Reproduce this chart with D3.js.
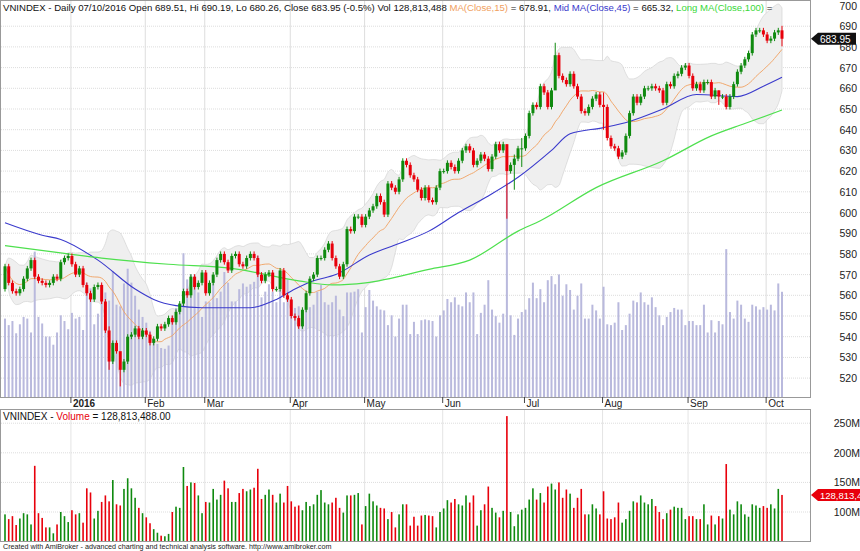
<!DOCTYPE html>
<html><head><meta charset="utf-8">
<script src="https://cdn.jsdelivr.net/npm/d3@7"></script>
<style>body{margin:0;background:#fff}svg{display:block;font-family:"Liberation Sans",Arial,sans-serif}</style>
</head><body><svg id="c" width="860" height="551"></svg>
<script>
// ---- data ----
const closes = [574,566,562,561,563,568,573,577,569,567,566,565,566,569,568,576,578,579,
575,570,573,565,561,558,564,565,557,543,528,537,533,524,528,540,541,544,
540,543,541,537,539,545,544,546,549,547,552,556,562,560,569,564,566,571,
561,566,570,577,580,576,572,579,580,575,574,578,580,578,570,567,570,571,563,563,572,560,558,550,549,545,553,
561,568,570,578,578,582,585,
578,574,569,575,592,591,598,598,594,598,601,603,608,605,599,614,612,610,616,625,623,618,616,611,607,612,606,605,612,620,620,624,622,620,625,630,632,630,623,625,628,626,621,627,633,630,633,620,
623,626,631,631,637,648,652,651,661,658,651,659,676,666,664,662,667,661,656,649,648,651,655,657,652,651,636,632,631,627,629,637,648,656,653,656,660,660,661,660,659,653,662,661,666,667,670,671,666,660,662,659,663,663,656,659,656,656,651,656,662,668,671,674,677,686,688,688,686,683,684,687,688,683.95];
const firstOpen = 563;
const volumes = [96,88,93,78,89,98,96,79,178,98,90,
74,74,64,79,100,93,83,103,96,98,
82,140,133,89,102,117,128,118,154,113,
111,139,157,140,124,107,98,91,81,71,65,
60,59,63,100,109,107,176,144,150,149,
128,98,117,116,139,121,129,153,140,117,
117,132,139,135,138,141,173,122,129,138,
129,116,131,116,144,118,109,111,103,117,110,
113,129,137,116,113,116,124,107,99,128,
128,129,132,79,110,131,118,111,107,106,
88,100,74,96,113,113,77,92,77,94,95,
94,93,74,100,106,120,116,122,113,111,
128,116,128,77,103,113,143,107,99,91,
102,262,
100,76,96,104,107,121,140,121,132,116,
143,148,138,150,124,138,131,107,124,139,
96,96,113,106,96,135,89,88,91,116,
82,88,102,118,116,128,116,113,122,110,100,
88,98,104,109,107,107,88,93,93,88,
88,113,79,94,79,93,89,181,104,96,
118,113,96,92,113,111,107,110,107,113,
106,139,128.8];
const wickOverrides = [[135,633,597],[148,682,660],[137,628,611],[31,531,516],[28,545,524],[209,690.19,680.26],[192,659,652],[161,658,640],[139,636,622]];
const maMidIdx = [0,10,15,25,35,40,46,53,66,73,78,83,89,98,106,114,122,130,138,147,152,161,168,177,186,197,204,209];
const maMidVal = [595,589,587,577,563,558,555,554,554,558,563,567,570,579.5,585,591,600,608,617,630,638,641,644,650,657,656,661,665.3];
const maLongIdx = [0,17,26,44,61,79,88,97,114,125,138,144,159,177,190,199,209];
const maLongVal = [584,580,578,575,573,567,565,566,572.5,577,591,596,612,625,637,643,649.5];
const monthLabels = ["2016","Feb","Mar","Apr","May","Jun","Jul","Aug","Sep","Oct"];
const monthIdx = [18,38,54,77,97,118,140,161,184,205];
const priceTicks = [520,530,540,550,560,570,580,590,600,610,620,630,640,650,660,670,680,690,700];
const volTicks = [100,150,200,250];

// ---- layout ----
const svg = d3.select("#c");
const R = 810;
const x = d3.scaleLinear().domain([0,209]).range([5,782]);
const y = d3.scaleLinear().domain([700,520]).range([5.5,378.1]);
const yvo = d3.scaleLinear().domain([0,486]).range([397,0]);
const yv = d3.scaleLinear().domain([100,250]).range([512,423.2]);
const opens = closes.map((c,i)=> i===0?firstOpen:closes[i-1]);
const up = closes.map((c,i)=> c>=opens[i]);
const RED="#e8000b", GRN="#0f8a0f";

svg.append("rect").attr("x",0.5).attr("y",0.5).attr("width",R).attr("height",397).attr("fill","none").attr("stroke","#999");
svg.append("rect").attr("x",0.5).attr("y",409.5).attr("width",R).attr("height",132).attr("fill","none").attr("stroke","#999");

const gp = svg.append("g");
priceTicks.forEach(t=>{ if(t<700) gp.append("line").attr("x1",1).attr("x2",R).attr("y1",y(t)).attr("y2",y(t)).attr("stroke","#ddd").attr("stroke-dasharray","1,1");});
monthIdx.forEach(m=>{ gp.append("line").attr("x1",x(m)-1).attr("x2",x(m)-1).attr("y1",1).attr("y2",397).attr("stroke","#ddd");
  gp.append("line").attr("x1",x(m)-1).attr("x2",x(m)-1).attr("y1",410).attr("y2",541).attr("stroke","#e4e4e4");
  gp.append("line").attr("x1",x(m)-1).attr("x2",x(m)-1).attr("y1",397).attr("y2",403).attr("stroke","#444");});
volTicks.forEach(t=>gp.append("line").attr("x1",1).attr("x2",R).attr("y1",yv(t)).attr("y2",yv(t)).attr("stroke","#ddd").attr("stroke-dasharray","1,1"));

const N=15;
const bb = closes.map((c,i)=>{const s=closes.slice(Math.max(0,i-N+1),i+1);const m=d3.mean(s);const sd=Math.sqrt(d3.mean(s,v=>(v-m)*(v-m)));return {i,m,u:m+2*sd,l:m-2*sd};});
svg.append("path").datum(bb).attr("fill","#efefef").attr("stroke","#cfcfcf").attr("stroke-width",0.6)
  .attr("d",d3.area().x(d=>x(d.i)).y0(d=>y(d.l)).y1(d=>y(d.u)).curve(d3.curveMonotoneX));

svg.append("g").selectAll("rect").data(volumes).join("rect")
  .attr("x",(d,i)=>x(i)-1).attr("width",2).attr("y",d=>yvo(d)).attr("height",d=>397-yvo(d)).attr("fill","#b9b9dd");

svg.append("path").datum(bb).attr("fill","none").attr("stroke","#f0a060").attr("stroke-width",0.9).attr("d",d3.line().x(d=>x(d.i)).y(d=>y(d.m)).curve(d3.curveMonotoneX));
svg.append("path").datum(maMidIdx.map((k,j)=>[k,maMidVal[j]])).attr("fill","none").attr("stroke","#3a3acc").attr("stroke-width",1.1)
  .attr("d",d3.line().x(d=>x(d[0])).y(d=>y(d[1])).curve(d3.curveMonotoneX));
svg.append("path").datum(maLongIdx.map((k,j)=>[k,maLongVal[j]])).attr("fill","none").attr("stroke","#4ee04e").attr("stroke-width",1.2)
  .attr("d",d3.line().x(d=>x(d[0])).y(d=>y(d[1])).curve(d3.curveMonotoneX));

const cg = svg.append("g");
closes.forEach((c,i)=>{
  const o=opens[i]; let hi=Math.max(o,c)+1.2, lo=Math.min(o,c)-1.2;
  const w=wickOverrides.find(a=>a[0]===i); if(w){hi=w[1];lo=w[2];}
  const col=up[i]?GRN:RED;
  cg.append("line").attr("x1",x(i)).attr("x2",x(i)).attr("y1",y(hi)).attr("y2",y(lo)).attr("stroke",col).attr("stroke-width",1);
  const top=y(Math.max(o,c)), bot=y(Math.min(o,c));
  cg.append("rect").attr("x",x(i)-1.5).attr("width",3).attr("y",top).attr("height",Math.max(1,bot-top)).attr("fill",col);
});

svg.append("g").selectAll("rect").data(volumes).join("rect")
  .attr("x",(d,i)=>x(i)-0.8).attr("width",1.6).attr("y",d=>yv(d)).attr("height",d=>541-yv(d)).attr("fill",(d,i)=>up[i]?GRN:RED);

const ax = svg.append("g").attr("font-size",10.5).attr("fill","#222");
priceTicks.forEach(t=>ax.append("text").attr("x",857).attr("y",y(t)+4).attr("text-anchor","end").text(t));
volTicks.forEach(t=>ax.append("text").attr("x",860).attr("y",yv(t)+4).attr("text-anchor","end").text(t+"M"));
monthLabels.forEach((m,k)=>ax.append("text").attr("x",x(monthIdx[k])+1).attr("y",407).attr("font-size",10).attr("font-weight",k===0?"bold":"normal").text(m));

const ly=y(closes[209]);
svg.append("path").attr("d",`M${R+1},${ly} L${R+8},${ly-6} L856,${ly-6} L856,${ly+6} L${R+8},${ly+6} Z`).attr("fill","#111");
svg.append("text").attr("x",R+10).attr("y",ly+4).attr("font-size",10).attr("fill","#fff").text("683.95");
const vy=yv(volumes[209]);
svg.append("path").attr("d",`M${R+1},${vy} L${R+8},${vy-6} L860,${vy-6} L860,${vy+6} L${R+8},${vy+6} Z`).attr("fill","#e8000b");
svg.append("text").attr("x",R+10).attr("y",vy+4).attr("font-size",9.5).attr("fill","#fff").text("128,813,4");

const t1 = svg.append("text").attr("x",3).attr("y",11).attr("font-size",9.6).attr("fill","#111");
[["VNINDEX - Daily 07/10/2016 Open 689.51, Hi 690.19, Lo 680.26, Close 683.95 (-0.5%) Vol 128,813,488 ","#111"],
 ["MA(Close,15)","#f0a060"],[" = 678.91, ","#111"],["Mid MA(Close,45)","#3a3acc"],[" = 665.32, ","#111"],["Long MA(Close,100)","#3ad83a"],[" =","#111"]]
 .forEach(p=>t1.append("tspan").attr("fill",p[1]).text(p[0]));
const t2 = svg.append("text").attr("x",3).attr("y",420).attr("font-size",10).attr("fill","#111");
t2.append("tspan").text("VNINDEX - ");t2.append("tspan").attr("fill","#e8000b").text("Volume");t2.append("tspan").text(" = 128,813,488.00");
svg.append("text").attr("x",3).attr("y",549).attr("font-size",7.2).attr("fill","#222").text("Created with AmiBroker - advanced charting and technical analysis software. http://www.amibroker.com");
</script></body></html>
